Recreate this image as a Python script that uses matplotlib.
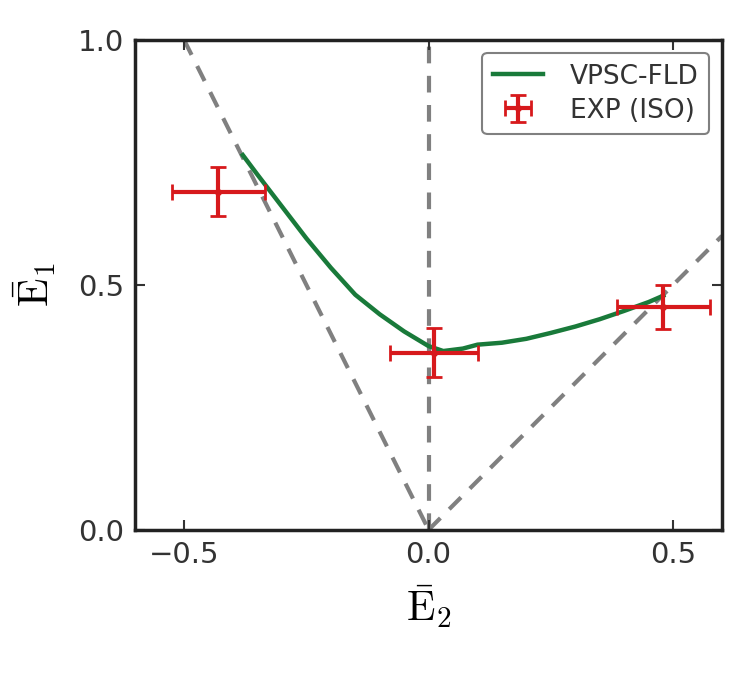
import matplotlib
matplotlib.use("Agg")
import matplotlib.pyplot as plt
import numpy as np

plt.rcParams["mathtext.fontset"] = "cm"

# VPSC-FLD predicted limit curve
fld_e2 = [-0.38, -0.35, -0.30, -0.25, -0.20, -0.15, -0.10, -0.05, 0.00, 0.03,
          0.07, 0.10, 0.15, 0.20, 0.25, 0.30, 0.35, 0.40, 0.45, 0.48]
fld_e1 = [0.765, 0.725, 0.660, 0.595, 0.535, 0.480, 0.440, 0.405, 0.375, 0.365,
          0.370, 0.378, 0.382, 0.390, 0.402, 0.415, 0.430, 0.447, 0.465, 0.478]

# experimental points (ISO)
exp_e2 = [-0.43, 0.01, 0.48]
exp_e1 = [0.69, 0.362, 0.455]
exp_e2_err = [0.095, 0.09, 0.095]
exp_e1_err = [0.05, 0.05, 0.045]

# strain-path guide lines
guides = [([-0.5, 0.0], [1.0, 0.0]),
          ([0.0, 0.0], [0.0, 1.0]),
          ([0.0, 0.6], [0.0, 0.6])]

fig = plt.figure(figsize=(7.39, 6.89), dpi=100)
ax = fig.add_axes([0.183, 0.231, 0.794, 0.711])

for gx, gy in guides:
    ax.plot(gx, gy, ls=(0, (4, 3)), color="gray", lw=3, zorder=1)

ax.plot(fld_e2, fld_e1, color="#197a3a", lw=3.2, label="VPSC-FLD", zorder=3)
ax.errorbar(exp_e2, exp_e1, xerr=exp_e2_err, yerr=exp_e1_err, fmt="o",
            color="#d7191c", ms=4, elinewidth=3, capsize=6, capthick=2,
            label="EXP (ISO)", zorder=4)

ax.set_xlim(-0.6, 0.6)
ax.set_ylim(0.0, 1.0)
ax.set_xticks([-0.5, 0.0, 0.5])
ax.set_yticks([0.0, 0.5, 1.0])
ax.tick_params(direction="in", top=True, right=True, labelsize=21,
               length=7, width=1.5, pad=8, colors="#333333")
for s in ax.spines.values():
    s.set_linewidth(2.5)
    s.set_color("#222222")

ax.set_xlabel(r"$\bar{\mathrm{E}}_2$", fontsize=30, labelpad=10)
ax.set_ylabel(r"$\bar{\mathrm{E}}_1$", fontsize=30, labelpad=14)

leg = ax.legend(loc="upper right", fontsize=19, handlelength=1.9,
                fancybox=True, framealpha=1, edgecolor="gray",
                borderaxespad=0.5, borderpad=0.4, labelspacing=0.3,
                handletextpad=1.0)
leg.get_frame().set_linewidth(1.5)
for t in leg.get_texts():
    t.set_color("#333333")

fig.savefig("out.png", dpi=100)
